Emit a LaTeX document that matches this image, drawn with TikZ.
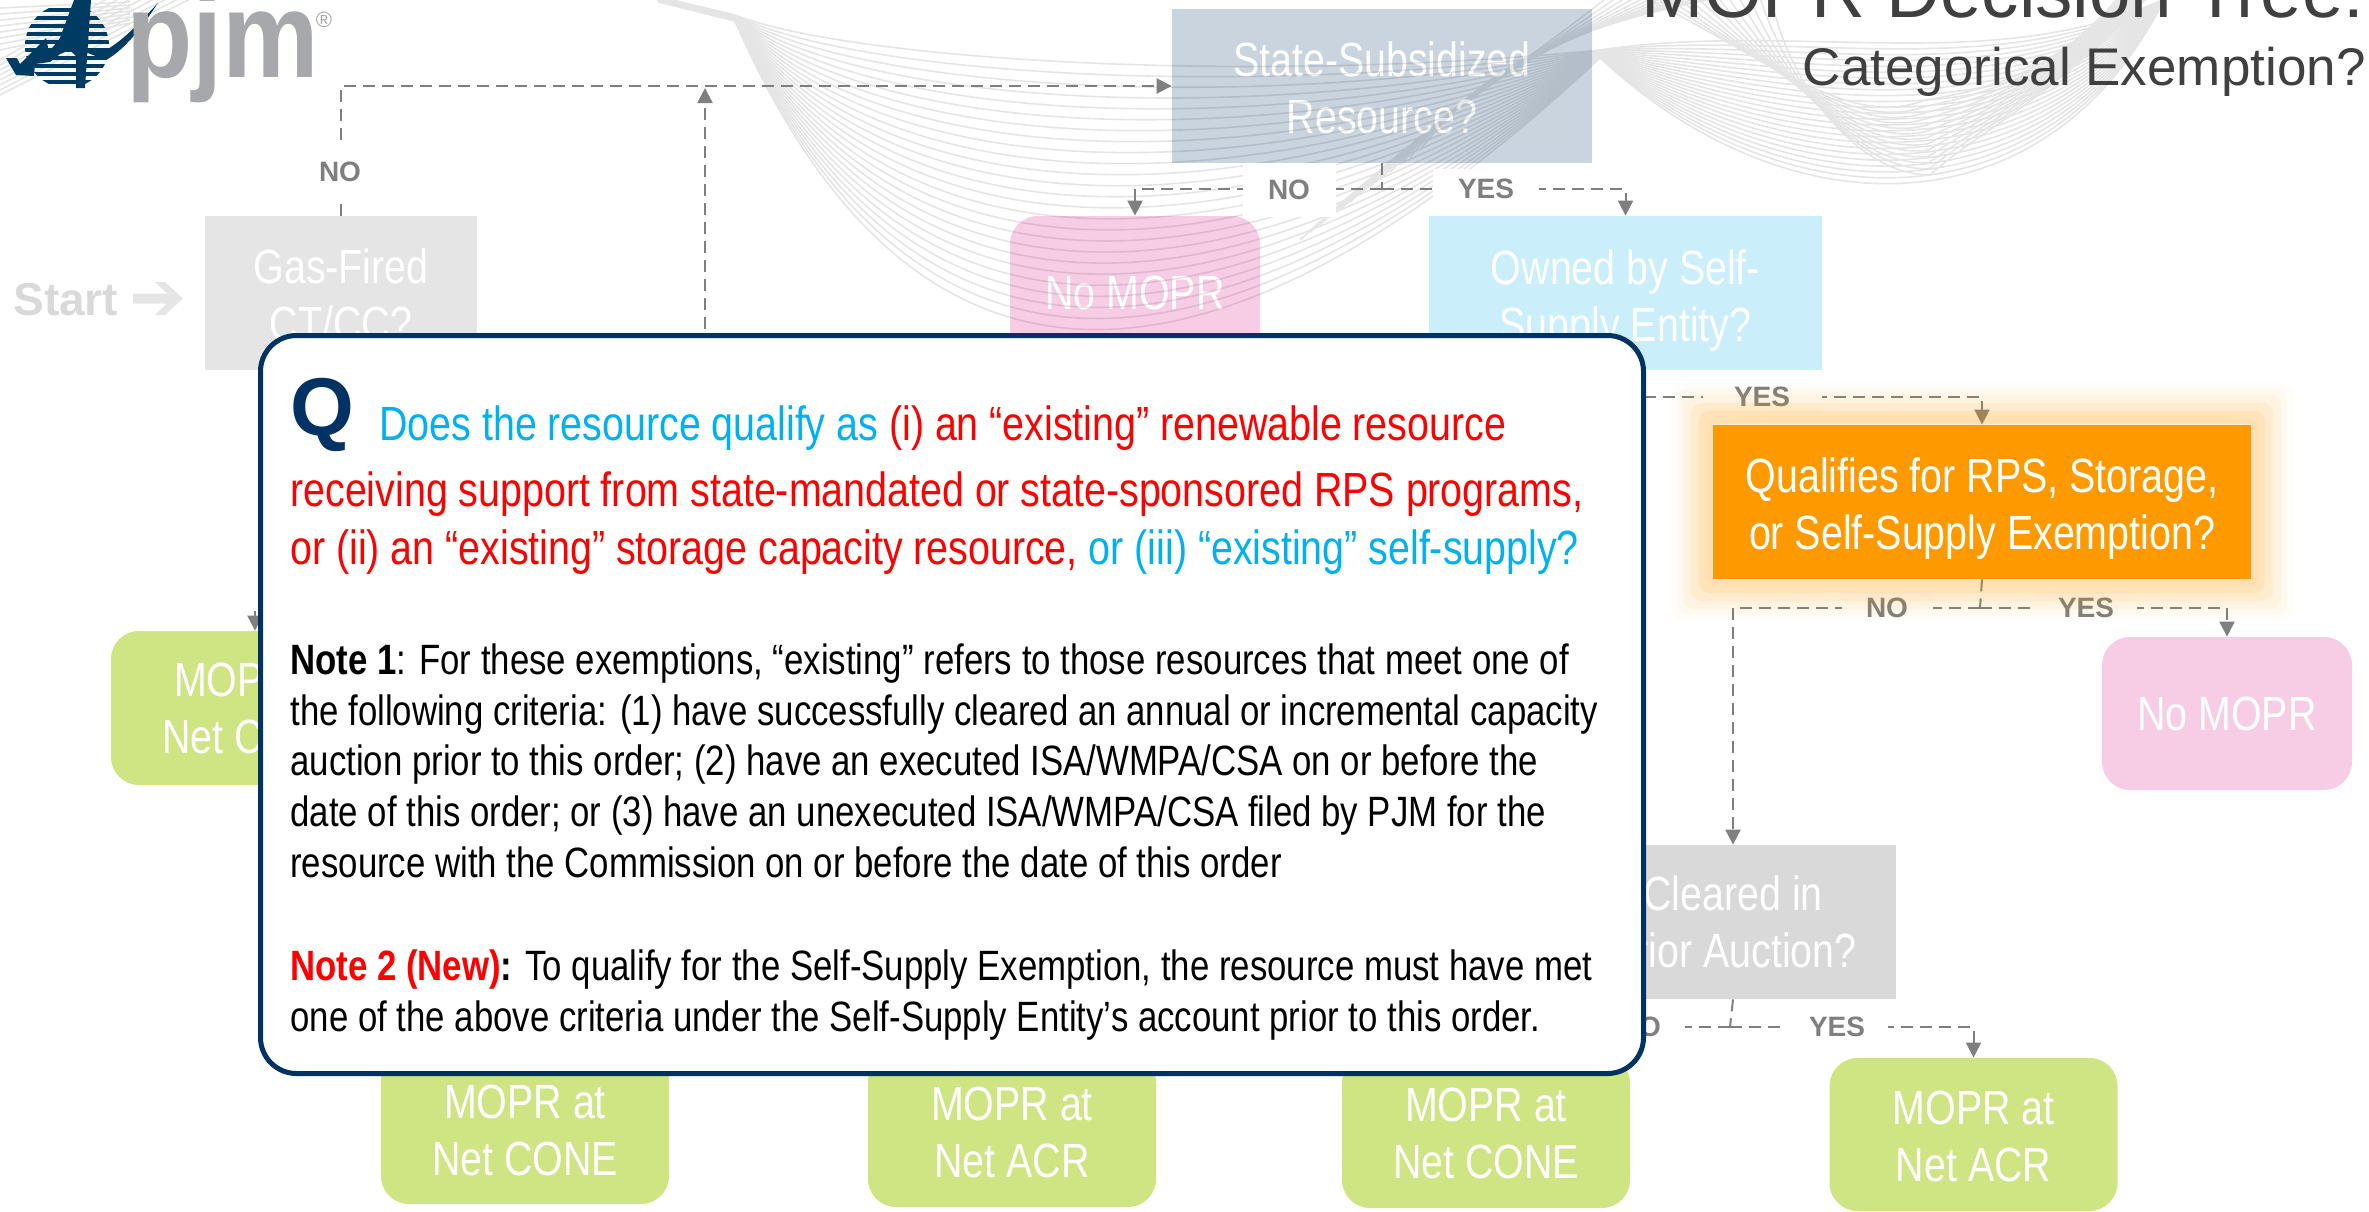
\documentclass[tikz,border=0pt]{standalone}
\usepackage{fontspec}
\setmainfont{Liberation Sans}
\newfontfamily\nar[FakeStretch=0.82]{Liberation Sans}
\newfontfamily\logofont[FakeStretch=0.89]{Liberation Sans}
\usetikzlibrary{arrows.meta,calc}
\definecolor{navy}{HTML}{003263}
\definecolor{pgrey}{HTML}{7F7F7F}
\definecolor{lgrey}{HTML}{D9D9D9}
\definecolor{cblue}{HTML}{00B0F0}
\definecolor{cred}{HTML}{FF0000}
\definecolor{corange}{HTML}{FF9900}
\definecolor{cgreen}{HTML}{CFE483}
\definecolor{cpink}{HTML}{F7CDE6}
\definecolor{csky}{HTML}{CAEEFA}
\definecolor{cslate}{HTML}{C9D4DF}
\definecolor{cgas}{HTML}{E5E5E5}
\definecolor{logogrey}{HTML}{A6A8AB}
\definecolor{logonavy}{HTML}{003B63}
\definecolor{titlec}{HTML}{404040}
\newcommand{\dn}[1]{\rule{0pt}{#1pt}}
\tikzset{
  wh/.style 2 args={minimum width=#1*0.5pt,minimum height=#2*0.5pt},
  flowbox/.style={inner sep=0pt,align=center,text=white,font=\nar\fontsize{24}{28.5}\selectfont},
  endbox/.style={flowbox,rounded corners=14pt},
  conn/.style={draw=pgrey,line width=1.25pt,dash pattern=on 6pt off 3.5pt},
  connthin/.style={conn,line width=1pt},
  tip/.style={-{Triangle[length=7.5pt,width=7.5pt]}},
  lab/.style={inner sep=0pt,fill=white,text=pgrey,font=\bfseries\fontsize{14}{14}\selectfont},
  ribbon/.style={draw=black,line width=0.8pt},
  head/.style={anchor=base west,inner sep=0pt,font=\nar\fontsize{24}{28}\selectfont},
  note/.style={anchor=base west,inner sep=0pt,text=black,font=\nar\fontsize{21.2}{25}\selectfont},
}
\begin{document}
\begin{tikzpicture}[x=0.5pt,y=-0.5pt]
\useasboundingbox (0,0) rectangle (2369,1211);
\clip (0,0) rectangle (2369,1211);
% boxes
\node[flowbox,fill=cgas,wh={272}{154}] (gas) at (341,293) {\dn{19.5}Gas-Fired\\CT/CC?};
\node[flowbox,fill=cslate,wh={420}{154}] (state) at (1382,86) {\dn{19}State-Subsidized\\Resource?};
\node[endbox,fill=cpink,wh={250}{153}] (nm1) at (1135,292.5) {No MOPR};
\node[flowbox,fill=csky,wh={393}{154}] (owned) at (1625.5,293) {\dn{24.5}Owned by Self-\\Supply Entity?};
\node[endbox,fill=cpink,wh={250}{153}] (nm2) at (2227,713.5) {No MOPR};
\node[flowbox,fill=lgrey,wh={326}{154}] (cleared) at (1733,922) {Cleared in\\Prior Auction?};
\node[endbox,fill=cgreen,wh={288}{154}] (m1) at (255,708) {MOPR at\\Net CONE};
\node[endbox,fill=cgreen,wh={288}{153}] (m2) at (525,1127.5) {\dn{20}MOPR at\\Net CONE};
\node[endbox,fill=cgreen,wh={288}{153}] (m3) at (1012,1130.5) {\dn{19}MOPR at\\Net ACR};
\node[endbox,fill=cgreen,wh={288}{153}] (m4) at (1486,1131.5) {\dn{19}MOPR at\\Net CONE};
\node[endbox,fill=cgreen,wh={288}{153}] (m5) at (1973.5,1134.5) {\dn{19}MOPR at\\Net ACR};
% background ribbon
\begin{scope}[transparency group,opacity=0.1]
\foreach \i in {0,...,24}{
  \pgfmathsetmacro{\t}{\i/24}
  \draw[ribbon] ({655+\t*4},{-4+\t*6}) -- (735,{15+\t*6})
    .. controls ({850+\t*50},{60+\t*340}) and ({1250-\t*70},{85+\t*365}) .. (1600,{50+\t*8})
    .. controls ({1800-\t*10},{20+\t*215}) and ({2000+\t*50},{80+\t*155}) .. ({2175-\t*8},-6);
}
\foreach \i in {0,...,12}{
  \pgfmathsetmacro{\t}{\i/12}
  \draw[ribbon] ({1300+\t*120},{240-\t*90}) .. controls ({1430+\t*60},{120-\t*60}) and ({1530+\t*30},{60-\t*30}) .. ({1610+\t*120},-5);
  \draw[ribbon] ({1640+\t*130},-5) .. controls ({1770+\t*20},{60+\t*30}) and ({1850+\t*10},{130+\t*45}) .. ({1925+\t*5},{100+\t*75})
     .. controls ({1990-\t*10},{90+\t*40}) and ({2060-\t*10},{70+\t*30}) .. ({2120+\t*30},-5);
}
\foreach \i in {0,...,7}{
  \draw[ribbon] (0,{60+\i*5}) -- ({110+\i*12},-3);
  \draw[ribbon] (0,{8+\i*6}) -- (130,{2+\i*3});
}
\end{scope}
% junctions and free ends
\coordinate (j1) at (1382,189);
\coordinate (j2) at (1625,397);
\coordinate (j3) at (1980,608);
\coordinate (j4) at (1730,1027);
\coordinate (up) at (705,500);
\coordinate (leftfeed) at (330,610);
% white label patches and connectors
\node[flowbox,fill=corange,wh={538}{154}] (qual) at (1982,502) {\dn{23.5}Qualifies for RPS, Storage,\\or Self-Supply Exemption?};
\draw[conn,tip] (gas.north) |- (state.west);
\draw[conn,tip] (up) -- (705,88);
\draw[connthin] (state.south) -- (j1);
\draw[connthin,tip] (j1) -| (nm1.north);
\draw[connthin,tip] (j1) -| (owned.north);
\draw[connthin] (owned.south) -- (j2);
\draw[connthin,tip] (j2) -| (qual.north);
\draw[connthin] (qual.south) -- (j3);
\draw[connthin,tip] (j3) -| (cleared.north);
\draw[connthin,tip] (j3) -| (nm2.north);
\draw[connthin] (cleared.south) -- (j4);
\draw[connthin,tip] (j4) -| (m4.north);
\draw[connthin,tip] (j4) -| (m5.north);
\draw[connthin,tip] (leftfeed) -| (m1.north);
% labels
\node[lab,wh={60}{64}] (lno1) at (340,172) {NO};
\node[lab,wh={93}{54}] (lno2) at (1289,190) {NO};
\node[lab,wh={106}{40}] (lyes2) at (1486,189) {YES};
\node[lab,wh={119}{34}] (lyes3) at (1762,397) {YES};
\node[lab,wh={91}{34}] (lno4) at (1887,608) {NO};
\node[lab,wh={102}{34}] (lyes4) at (2086,608) {YES};
\node[lab,wh={90}{34}] (lno5) at (1640,1027) {NO};
\node[lab,wh={101}{34}] (lyes5) at (1837,1027) {YES};
% glow around the highlighted box
\foreach \e/\o in {42/0.02,36/0.04,30/0.06,22/0.09,14/0.1,7/0.04}{
  \fill[corange,opacity=\o,even odd rule,rounded corners=6pt]
    ($(qual.south west)+(-\e,\e)$) rectangle ($(qual.north east)+(\e,-\e)$)
    [sharp corners] (qual.south west) rectangle (qual.north east);
}
% start
\node[anchor=base west,inner sep=0pt,text=lgrey,font=\bfseries\fontsize{23}{23}\selectfont] (start) at (13,315) {Start};
\fill[cgas] (133,293.5) -- (167,293.5) -- (155,282) -- (165,282) -- (183,298.5) -- (165,315) -- (155,315) -- (167,303.5) -- (133,303.5) -- cycle;
% logo
\begin{scope}
  \clip (67,46) circle [radius=42];
  \foreach \y in {0,8,...,88}{
    \fill[logonavy] (20,\y) rectangle (115,{\y+3.6});
  }
\end{scope}
\fill[logonavy] (6,58) -- (17,58) -- (20,64) -- (46,38) -- (49,52) -- (60,38) -- (74,0) -- (91,0) -- (90,14) -- (85,88) -- (76,88) -- (76,56) -- (70,50) -- (60,54) -- (50,62) -- (35,64) -- (34,76) -- (16,75) -- cycle;
\fill[logonavy] (158,3) .. controls (140,30) and (124,50) .. (106,60) -- (85,52) -- (106,50) .. controls (124,40) and (140,22) .. cycle;
\node[anchor=base west,inner sep=0pt,text=logogrey,font=\logofont\bfseries\fontsize{61}{61}\selectfont] (pjm) at (126,77) {pjm};
\node[inner sep=0pt,text=logogrey,font=\fontsize{11}{11}\selectfont] (reg) at (324,20) {®};
% title
\node[anchor=base east,inner sep=0pt,text=titlec,font=\fontsize{37.3}{37.3}\selectfont] (title) at (2365,17) {MOPR Decision Tree:};
\node[anchor=base east,inner sep=0pt,text=titlec,font=\fontsize{26.5}{26.5}\selectfont] (subtitle) at (2366,85) {Categorical Exemption?};
% question panel
\node[draw=navy,fill=white,line width=2.5pt,rounded corners=18pt,inner sep=0pt,wh={1383}{738}] (panel) at (952,704.5) {};
\node[anchor=base west,inner sep=0pt,text=navy,font=\bfseries\fontsize{41}{41}\selectfont] (q) at (290,435) {Q};
\node[head] (h1) at (379,440) {\color{cblue}Does the resource qualify as \color{cred}(i) an “existing” renewable resource};
\node[head,text=cred] (h2) at (290,506) {receiving support from state-mandated or state-sponsored RPS programs,};
\node[head] (h3) at (290,564) {\color{cred}or (ii) an “existing” storage capacity resource, \color{cblue}or (iii) “existing” self-supply?};
\node[note] (n1) at (290,674) {\textbf{Note 1}: For these exemptions, “existing” refers to those resources that meet one of};
\node[note] (n2) at (290,725) {the following criteria: (1) have successfully cleared an annual or incremental capacity};
\node[note] (n3) at (290,775) {auction prior to this order; (2) have an executed ISA/WMPA/CSA on or before the};
\node[note] (n4) at (290,826) {date of this order; or (3) have an unexecuted ISA/WMPA/CSA filed by PJM for the};
\node[note] (n5) at (290,877) {resource with the Commission on or before the date of this order};
\node[note] (n6) at (290,980) {\textbf{\color{cred}Note 2 (New)\color{black}:} To qualify for the Self-Supply Exemption, the resource must have met};
\node[note] (n7) at (290,1031) {one of the above criteria under the Self-Supply Entity’s account prior to this order.};
\end{tikzpicture}
\end{document}
